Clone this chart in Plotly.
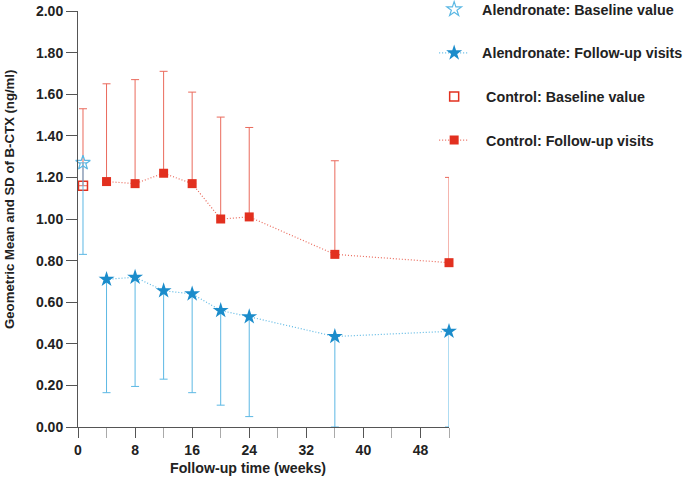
import plotly.graph_objects as go

# ---- data ----
baseline_week = [0.7]
alen_base_mean = [1.27]
alen_base_lower = [0.83]
ctrl_base_mean = [1.16]
ctrl_base_upper = [1.53]

weeks = [4, 8, 12, 16, 20, 24, 36, 52]
ctrl_mean = [1.18, 1.17, 1.22, 1.17, 1.00, 1.01, 0.83, 0.79]
ctrl_upper = [1.65, 1.67, 1.71, 1.61, 1.49, 1.44, 1.28, 1.20]
alen_mean = [0.71, 0.72, 0.655, 0.64, 0.56, 0.53, 0.435, 0.46]
alen_lower = [0.165, 0.195, 0.23, 0.165, 0.105, 0.05, 0.0, 0.0]

x_ticks = [0, 8, 16, 24, 32, 40, 48]
x_minor = [4, 12, 20, 28, 36, 44, 52]
y_ticks = [0.0, 0.2, 0.4, 0.6, 0.8, 1.0, 1.2, 1.4, 1.6, 1.8, 2.0]

BLUE = "#1b8ccb"
BLUE_L = "#5cb8e4"
RED = "#e2301f"
RED_L = "#ea6a5c"
FONT = "Liberation Sans, Arial, sans-serif"
DOT = "1px,2px"
NB = "\u00a0"

fig = go.Figure()

# Control baseline
fig.add_trace(go.Scatter(
    x=baseline_week, y=ctrl_base_mean, mode="markers",
    name=NB * 3 + "<b>Control: Baseline value</b>",
    marker=dict(symbol="square-open", size=9, color=RED, line=dict(width=1.5, color=RED)),
    error_y=dict(type="data", symmetric=False,
                 array=[u - m for u, m in zip(ctrl_base_upper, ctrl_base_mean)],
                 arrayminus=[0], color=RED_L, thickness=1, width=4),
    legendrank=3, legendgroup="c", cliponaxis=False,
))
# Alendronate baseline
fig.add_trace(go.Scatter(
    x=baseline_week, y=alen_base_mean, mode="markers",
    name=NB * 2 + "<b>Alendronate: Baseline value</b>",
    marker=dict(symbol="star-open", size=11, color=BLUE_L, line=dict(width=1.2, color=BLUE_L)),
    error_y=dict(type="data", symmetric=False, array=[0],
                 arrayminus=[m - l for m, l in zip(alen_base_mean, alen_base_lower)],
                 color=BLUE_L, thickness=1, width=4),
    legendrank=1, legendgroup="a", cliponaxis=False,
))
# Control follow-up
fig.add_trace(go.Scatter(
    x=weeks, y=ctrl_mean, mode="lines+markers",
    name=NB * 3 + "<b>Control: Follow-up visits</b>",
    line=dict(color=RED_L, width=1.2, dash=DOT),
    marker=dict(symbol="square", size=9, color=RED),
    error_y=dict(type="data", symmetric=False,
                 array=[u - m for u, m in zip(ctrl_upper, ctrl_mean)],
                 arrayminus=[0] * len(weeks), color=RED_L, thickness=1, width=4),
    legendrank=4, legendgroup="d", cliponaxis=False,
))
# Alendronate follow-up
fig.add_trace(go.Scatter(
    x=weeks, y=alen_mean, mode="lines+markers",
    name=NB * 2 + "<b>Alendronate: Follow-up visits</b>",
    line=dict(color=BLUE_L, width=1.2, dash=DOT),
    marker=dict(symbol="star", size=12, color=BLUE),
    error_y=dict(type="data", symmetric=False, array=[0] * len(weeks),
                 arrayminus=[m - l for m, l in zip(alen_mean, alen_lower)],
                 color=BLUE_L, thickness=1, width=4),
    legendrank=2, legendgroup="b", cliponaxis=False,
))

fig.update_layout(
    width=685, height=481,
    margin=dict(l=78, r=236, t=11, b=54, autoexpand=False),
    paper_bgcolor="white", plot_bgcolor="white",
    font=dict(family=FONT, size=14, color="#222"),
    showlegend=True,
    legend=dict(x=0.96, y=1.042, xanchor="left", yanchor="top",
                tracegroupgap=22, font=dict(size=14.3, family=FONT, color="#222"),
                bgcolor="rgba(0,0,0,0)"),
    xaxis=dict(range=[0, 52], tickmode="array", tickvals=x_ticks,
               ticktext=[f"<b>{v}</b>" for v in x_ticks],
               ticks="outside", ticklen=10, tickcolor="#555", tickwidth=1,
               minor=dict(tickmode="array", tickvals=x_minor,
                          ticks="outside", ticklen=10, tickcolor="#aaa", tickwidth=1),
               showline=True, linecolor="#555", linewidth=1, showgrid=False, zeroline=False,
               automargin=False, tickfont=dict(size=14)),
    yaxis=dict(range=[0, 2.0], tickmode="array", tickvals=y_ticks,
               ticktext=[f"<b>{v:.2f}</b>" for v in y_ticks],
               ticks="outside", ticklen=11, tickcolor="#555", tickwidth=1,
               showline=True, linecolor="#555", linewidth=1, showgrid=False, zeroline=False,
               automargin=False, tickfont=dict(size=14)),
    annotations=[
        dict(text="<b>Follow-up time (weeks)</b>", xref="paper", yref="paper",
             x=0.458, y=-0.0986, xanchor="center", yanchor="middle",
             showarrow=False, font=dict(size=14.2)),
        dict(text="<b>Geometric Mean and SD of B-CTX (ng/ml)</b>", xref="paper", yref="paper",
             x=-0.183, y=0.546, xanchor="center", yanchor="middle", textangle=-90,
             showarrow=False, font=dict(size=13.2)),
    ],
)

fig.write_html("out.html", config={"displayModeBar": False},
               post_script="document.body.style.margin='0px';document.body.style.overflow='hidden';")
